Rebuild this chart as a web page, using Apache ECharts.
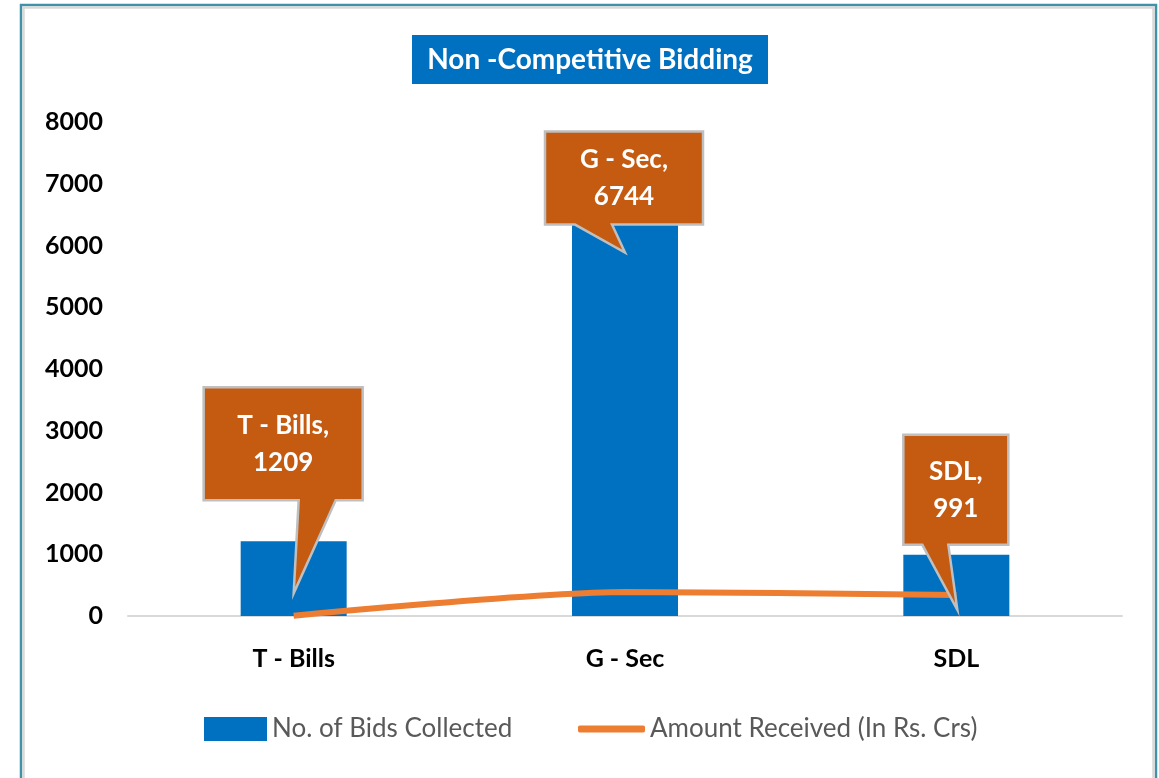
<!DOCTYPE html>
<html>
<head>
<meta charset="utf-8">
<script src="https://cdn.jsdelivr.net/npm/echarts@6/dist/echarts.min.js"></script>
<style>
html, body { margin: 0; padding: 0; background: #fff; }
#main { width: 1159px; height: 778px; }
</style>
</head>
<body>
<div id="main"></div>
<script>
// chart data
var categories = ['T - Bills', 'G - Sec', 'SDL'];
var bidsCollected = [1209, 6744, 991];
var amountReceived = [5, 389, 340];
var seriesNames = ['No. of Bids Collected', 'Amount Received (In Rs. Crs)'];

// callout boxes, offsets in px from the top of each bar
var callouts = [
    { l: -90, r: 69, t: -154, b: -41, tailL: 5, tailR: 42, tipX: 0, tipY: 52 },
    { l: -80, r: 78, t: -68, b: 25, tailL: -50, tailR: -13, tipX: 0, tipY: 53 },
    { l: -53, r: 52, t: -120, b: -10, tailL: -34, tailR: -8, tipX: 1, tipY: 55 }
];

var fontName = 'Lato, "Open Sans", sans-serif';
var chart = echarts.init(document.getElementById('main'));

var frame = [
    { type: 'rect', shape: { x: 21, y: 5, width: 1135, height: 800 },
      style: { fill: 'none', stroke: '#3E93A8', lineWidth: 2.5 }, z: 1 },
    { type: 'rect', shape: { x: 23.5, y: 7.5, width: 1130, height: 800 },
      style: { fill: 'none', stroke: '#D9D9D9', lineWidth: 2.5 }, z: 1 },
    { type: 'rect', shape: { x: 412, y: 35, width: 356, height: 49 },
      style: { fill: '#0070C0' }, z: 2 },
    { type: 'text', x: 590, y: 60, z: 3,
      style: { text: 'Non -Competitive Bidding', fill: '#fff', align: 'center', verticalAlign: 'middle',
               font: 'bold 28px ' + fontName } }
];

chart.setOption({
    animation: false,
    grid: { left: 128, right: 37, top: 122, bottom: 162 },
    legend: [{
        left: 204, top: 716, padding: 0,
        itemWidth: 63, itemHeight: 24,
        icon: 'rect',
        data: [seriesNames[0]],
        textStyle: { fontFamily: fontName, fontSize: 26, color: '#595959' }
    }, {
        left: 578, top: 716, padding: 0,
        itemWidth: 67, itemHeight: 7,
        icon: 'roundRect',
        data: [seriesNames[1]],
        textStyle: { fontFamily: fontName, fontSize: 26, color: '#595959', lineHeight: 24, height: 24 }
    }],
    xAxis: {
        type: 'category',
        data: categories,
        axisLine: { lineStyle: { color: '#D9D9D9', width: 2 } },
        axisTick: { show: false },
        axisLabel: { color: '#000', fontWeight: 'bold', fontSize: 25, fontFamily: fontName, margin: 30 }
    },
    yAxis: {
        type: 'value',
        min: 0, max: 8000, interval: 1000,
        splitLine: { show: false },
        axisLine: { show: false },
        axisTick: { show: false },
        axisLabel: { color: '#000', fontWeight: 'bold', fontSize: 25, fontFamily: fontName, margin: 25,
                     formatter: function (v) { return String(v); } }
    },
    series: [{
        name: seriesNames[0],
        type: 'bar',
        data: bidsCollected,
        barWidth: 106,
        itemStyle: { color: '#0070C0' }
    }, {
        name: seriesNames[1],
        type: 'line',
        data: amountReceived,
        smooth: 0.25,
        symbol: 'none',
        lineStyle: { color: '#ED7D31', width: 6 },
        itemStyle: { color: '#ED7D31' },
        z: 3
    }],
    graphic: frame
});

// callouts placed from the bar positions
var shapes = [];
categories.forEach(function (cat, i) {
    var p = chart.convertToPixel({ seriesIndex: 0 }, [i, bidsCollected[i]]);
    var c = callouts[i];
    var x = p[0], y = p[1];
    shapes.push({
        type: 'polygon', z: 10,
        shape: { points: [
            [x + c.l, y + c.t], [x + c.r, y + c.t], [x + c.r, y + c.b],
            [x + c.tailR, y + c.b], [x + c.tipX, y + c.tipY], [x + c.tailL, y + c.b],
            [x + c.l, y + c.b]
        ] },
        style: { fill: '#C55A11', stroke: '#BFBFBF', lineWidth: 2.5 }
    });
    shapes.push({
        type: 'text', z: 11,
        x: x + (c.l + c.r) / 2, y: y + (c.t + c.b) / 2,
        style: { text: cat + ',\n' + bidsCollected[i], fill: '#fff', align: 'center', verticalAlign: 'middle',
                 font: 'bold 26px ' + fontName, lineHeight: 37 }
    });
});
chart.setOption({ graphic: frame.concat(shapes) });
</script>
</body>
</html>
